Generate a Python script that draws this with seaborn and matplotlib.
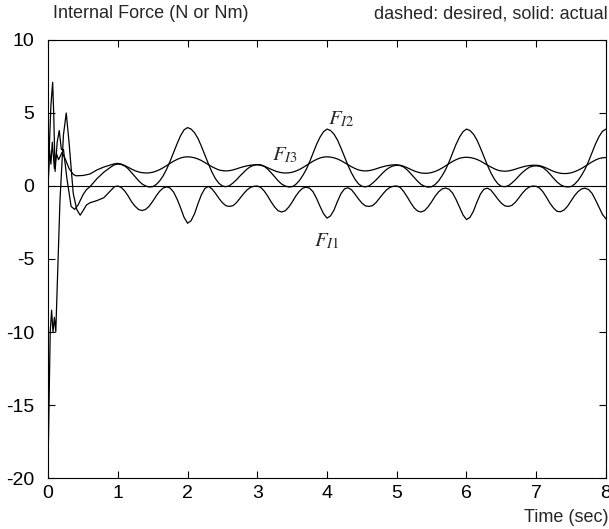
import numpy as np
import pandas as pd
import matplotlib
matplotlib.use("Agg")
import matplotlib.pyplot as plt
import seaborn as sns

# ---- start-up transient (irregular time samples) ----
t1_start = [0.0, 0.005, 0.03, 0.05, 0.07, 0.09, 0.11, 0.13, 0.17, 0.22, 0.26, 0.30,
            0.36, 0.41, 0.46, 0.50, 0.55, 0.60, 0.70, 0.80, 0.90, 0.95]
f1_start = [0.0, -17.5, -10.0, -8.5, -10.0, -9.0, -10.0, -7.0, -1.0, 3.5, 5.0, 3.0,
            -0.5, -1.6, -2.0, -1.7, -1.3, -1.15, -1.0, -0.8, -0.3, -0.05]

t2_start = [0.0, 0.02, 0.04, 0.065, 0.08, 0.10, 0.13, 0.16, 0.19, 0.22, 0.27, 0.33,
            0.38, 0.43, 0.50, 0.55, 0.60, 0.70, 0.80, 0.90, 0.95]
f2_start = [0.0, 3.0, 5.5, 7.1, 5.0, 1.0, 3.0, 3.8, 2.5, 2.5, 0.5, -1.4,
            -1.6, -1.3, -0.6, -0.25, -0.05, 0.5, 0.95, 1.3, 1.45]

t3_start = [0.0, 0.02, 0.04, 0.06, 0.09, 0.12, 0.15, 0.20, 0.25, 0.30, 0.36, 0.40,
            0.50, 0.60, 0.70, 0.80, 0.90, 0.95]
f3_start = [0.0, 2.5, 1.5, 3.0, 1.2, 2.2, 1.8, 2.3, 1.8, 1.2, 0.8, 0.7,
            0.72, 0.82, 1.1, 1.3, 1.45, 1.52]

# ---- steady part, sampled every 0.05 s from 1.0 s to 8.0 s ----
t_steady = np.round(np.arange(1.0, 8.0001, 0.05), 2)

f1_steady = [
    # 1.00 - 1.95
    0.0, -0.1, -0.35, -0.7, -1.1, -1.4, -1.62, -1.68, -1.6, -1.38,
    -1.05, -0.68, -0.36, -0.14, -0.06, -0.14, -0.42, -0.9, -1.5, -2.15,
    # 2.00 - 3.95
    -2.55, -2.38, -1.9, -1.2, -0.58, -0.16, -0.03, -0.2, -0.5, -0.85,
    -1.15, -1.35, -1.4, -1.35, -1.15, -0.85, -0.55, -0.28, -0.1, -0.02,
    0.0, -0.1, -0.35, -0.7, -1.1, -1.45, -1.7, -1.78, -1.7, -1.45,
    -1.1, -0.7, -0.38, -0.15, -0.08, -0.15, -0.4, -0.85, -1.4, -1.9,
    # 4.00 - 5.95
    -2.2, -2.05, -1.65, -1.05, -0.52, -0.2, -0.12, -0.25, -0.55, -0.88,
    -1.17, -1.36, -1.4, -1.35, -1.15, -0.85, -0.55, -0.28, -0.1, -0.02,
    0.0, -0.1, -0.38, -0.75, -1.15, -1.5, -1.72, -1.78, -1.68, -1.42,
    -1.08, -0.7, -0.4, -0.2, -0.14, -0.22, -0.48, -0.92, -1.45, -1.98,
    # 6.00 - 7.95
    -2.3, -2.15, -1.72, -1.1, -0.55, -0.22, -0.15, -0.28, -0.58, -0.9,
    -1.18, -1.36, -1.4, -1.33, -1.12, -0.82, -0.5, -0.24, -0.07, 0.0,
    -0.02, -0.15, -0.42, -0.8, -1.2, -1.52, -1.74, -1.76, -1.64, -1.38,
    -1.02, -0.66, -0.38, -0.2, -0.15, -0.24, -0.5, -0.95, -1.45, -1.95,
    # 8.00
    -2.25,
]

f2_steady = [
    1.5, 1.47, 1.37, 1.17, 0.9, 0.62, 0.35, 0.13, 0.0, -0.07,
    -0.05, 0.1, 0.35, 0.7, 1.15, 1.7, 2.3, 2.9, 3.45, 3.85,
    4.0, 3.9, 3.65, 3.25, 2.7, 2.1, 1.5, 0.95, 0.5, 0.18,
    0.0, -0.05, 0.02, 0.2, 0.42, 0.68, 0.92, 1.15, 1.32, 1.42,
    1.47, 1.45, 1.35, 1.15, 0.9, 0.62, 0.35, 0.13, 0.0, -0.07,
    -0.05, 0.1, 0.35, 0.7, 1.12, 1.65, 2.25, 2.85, 3.35, 3.72,
    3.9, 3.8, 3.55, 3.15, 2.6, 2.0, 1.42, 0.9, 0.47, 0.15,
    -0.02, -0.06, 0.0, 0.18, 0.4, 0.65, 0.9, 1.12, 1.28, 1.38,
    1.42, 1.4, 1.3, 1.1, 0.85, 0.58, 0.32, 0.1, -0.02, -0.08,
    -0.05, 0.1, 0.35, 0.7, 1.12, 1.65, 2.25, 2.85, 3.35, 3.72,
    3.9, 3.8, 3.55, 3.15, 2.6, 2.0, 1.42, 0.9, 0.47, 0.15,
    -0.02, -0.05, 0.02, 0.2, 0.42, 0.68, 0.92, 1.12, 1.28, 1.36,
    1.38, 1.35, 1.25, 1.05, 0.8, 0.52, 0.27, 0.08, -0.03, -0.07,
    -0.04, 0.12, 0.38, 0.73, 1.15, 1.68, 2.28, 2.88, 3.38, 3.75,
    3.9,
]

f3_steady = [
    1.55, 1.5, 1.4, 1.28, 1.15, 1.04, 0.96, 0.91, 0.89, 0.9,
    0.94, 1.02, 1.12, 1.25, 1.4, 1.55, 1.7, 1.82, 1.92, 1.98,
    2.0, 1.98, 1.93, 1.85, 1.74, 1.6, 1.46, 1.32, 1.2, 1.1,
    1.05, 1.03, 1.05, 1.1, 1.17, 1.25, 1.32, 1.38, 1.42, 1.45,
    1.45, 1.42, 1.35, 1.25, 1.14, 1.04, 0.96, 0.91, 0.89, 0.9,
    0.94, 1.02, 1.12, 1.25, 1.4, 1.55, 1.7, 1.82, 1.92, 1.98,
    2.0, 1.98, 1.93, 1.85, 1.74, 1.6, 1.46, 1.32, 1.2, 1.1,
    1.05, 1.03, 1.05, 1.1, 1.17, 1.25, 1.32, 1.38, 1.42, 1.45,
    1.45, 1.42, 1.35, 1.25, 1.14, 1.03, 0.95, 0.89, 0.87, 0.88,
    0.92, 1.0, 1.1, 1.23, 1.38, 1.53, 1.68, 1.8, 1.9, 1.95,
    1.97, 1.95, 1.9, 1.82, 1.71, 1.57, 1.43, 1.3, 1.18, 1.08,
    1.03, 1.01, 1.03, 1.08, 1.15, 1.23, 1.3, 1.36, 1.4, 1.42,
    1.42, 1.39, 1.32, 1.22, 1.1, 1.0, 0.92, 0.87, 0.85, 0.86,
    0.9, 0.98, 1.08, 1.2, 1.35, 1.5, 1.65, 1.78, 1.88, 1.93,
    1.95,
]

# desired internal force (zero)
t_desired = [0.0, 8.0]
f_desired = [0.0, 0.0]

x_ticks = [0, 1, 2, 3, 4, 5, 6, 7, 8]
y_ticks = [-20, -15, -10, -5, 0, 5, 10]

series = {
    "F_I1": (t1_start + list(t_steady), f1_start + f1_steady),
    "F_I2": (t2_start + list(t_steady), f2_start + f2_steady),
    "F_I3": (t3_start + list(t_steady), f3_start + f3_steady),
}
frames = [pd.DataFrame({"time": t, "force": f, "series": name})
          for name, (t, f) in series.items()]
df = pd.concat(frames, ignore_index=True)
df_des = pd.DataFrame({"time": t_desired, "force": f_desired})

sns.set_style("ticks")
plt.rcParams["font.family"] = ["Liberation Sans", "DejaVu Sans"]
plt.rcParams["mathtext.fontset"] = "stix"

fig = plt.figure(figsize=(6.09, 5.29), dpi=100)
ax = fig.add_axes([0.079, 0.0964, 0.916, 0.828])

sns.lineplot(data=df_des, x="time", y="force", ax=ax, color="black",
             linewidth=0.8, estimator=None, sort=False)
sns.lineplot(data=df, x="time", y="force", units="series", ax=ax,
             color="black", linewidth=0.9, estimator=None, sort=False)

ax.set_xlim(0, 8)
ax.set_ylim(-20, 10)
ax.set_xticks(x_ticks)
ax.set_yticks(y_ticks)
ax.set_xticklabels([str(v) for v in x_ticks])
ax.set_yticklabels([str(v) for v in y_ticks])
ax.tick_params(direction="in", length=5, width=0.8, top=True, right=True,
               labelsize=14, colors="black")
ax.tick_params(axis="y", pad=10)
ax.tick_params(axis="x", pad=5)
for sp in ax.spines.values():
    sp.set_visible(True)
    sp.set_linewidth(0.8)
    sp.set_color("black")
ax.set_xlabel("")
ax.set_ylabel("")

# curve labels
ax.text(4.2, 4.6, r"$F_{I2}$", fontsize=15, ha="center", va="center")
ax.text(3.4, 2.1, r"$F_{I3}$", fontsize=15, ha="center", va="center")
ax.text(4.0, -3.8, r"$F_{I1}$", fontsize=15, ha="center", va="center")

fig.text(53 / 609, 1 - 14 / 529, "Internal Force (N or Nm)", fontsize=13,
         ha="left", va="center")
fig.text(608 / 609, 1 - 14 / 529, "dashed: desired, solid: actual", fontsize=13,
         ha="right", va="center")
fig.text(608 / 609, 1 - 517 / 529, "Time (sec)", fontsize=13,
         ha="right", va="center")

fig.savefig("out.png", dpi=100)
